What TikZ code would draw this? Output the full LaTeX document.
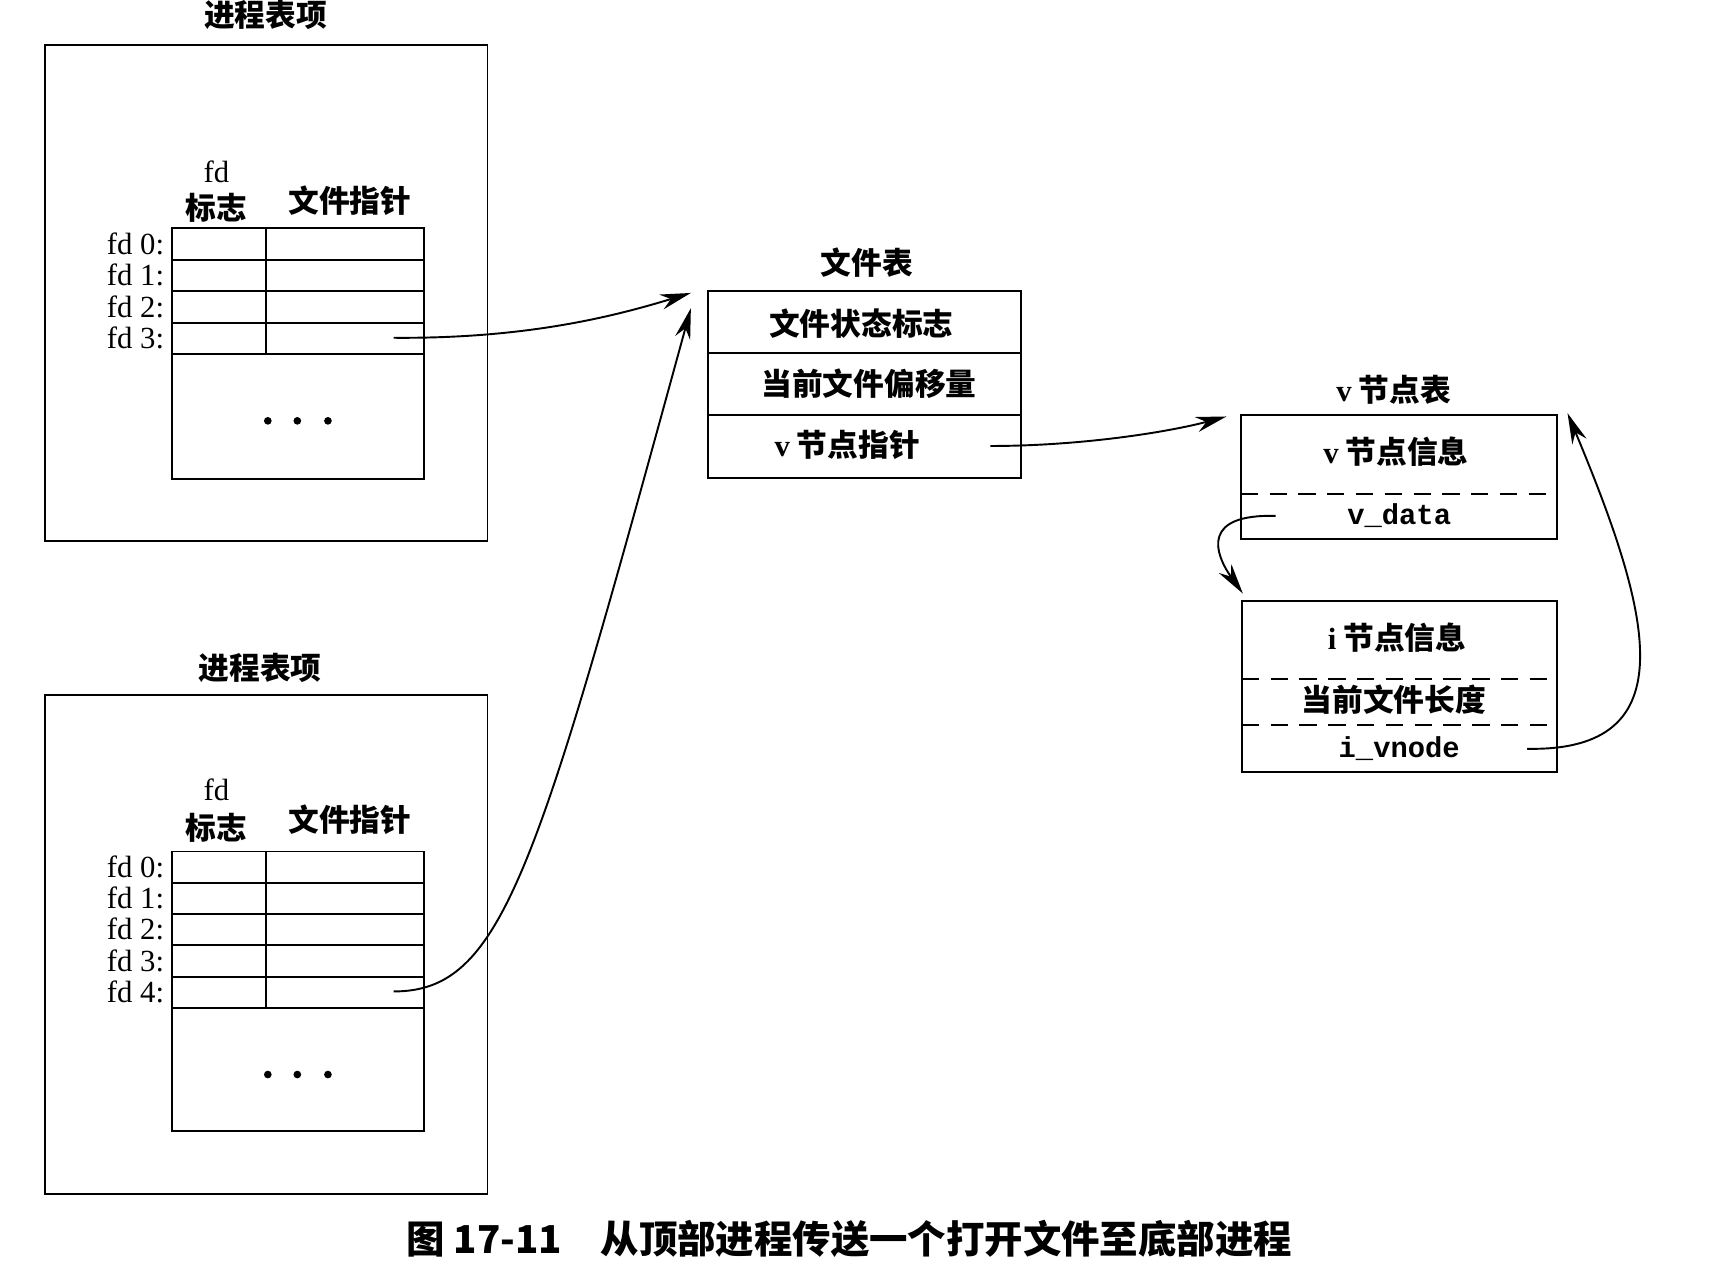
\documentclass[tikz,border=0pt]{standalone}
\usepackage{fontspec}
\setmainfont{Liberation Serif}
\setmonofont{Liberation Mono}
\newfontfamily\cjk{Noto Sans CJK SC}
\usetikzlibrary{arrows.meta, positioning, calc}

\begin{document}
\begin{tikzpicture}[x=0.02cm, y=-0.02cm, line width=1pt,
  cnlab/.style={font=\cjk\bfseries\fontsize{16}{18}\selectfont, inner sep=0pt},
  fdlab/.style={font=\fontsize{16}{18}\selectfont, inner sep=0pt},
  monolab/.style={font=\ttfamily\bfseries\fontsize{15}{17}\selectfont, inner sep=0pt},
  ptrarrow/.style={-{Stealth[length=16pt,width=8pt]}, line width=1pt},
  divline/.style={dash pattern=on 9pt off 6pt}]
  \useasboundingbox (0,0) rectangle (1568,1165);

  % upper process table entry
  \node[cnlab] (procA) at (243,14) {进程表项};
  \draw (41,41) rectangle (446,495);
  \node[fdlab] (fdhA) at (198,157) {fd};
  \node[cnlab] (flagA) at (198,190) {标志};
  \node[cnlab] (fptrA) at (320,184) {文件指针};
  \draw (157,209) rectangle (388,438);
  \foreach \i in {1,...,4}{
    \draw (157,209+28.75*\i) -- (388,209+28.75*\i);
  }
  \draw (243,209) -- (243,324);
  \foreach \i in {0,...,3}{
    \node[fdlab,anchor=east] (fdA\i) at (151,223+28.75*\i) {fd \i:};
  }
  \foreach \x in {245,272,300} \fill (\x,385) circle (2pt);

  % lower process table entry
  \node[cnlab] (procB) at (238,611) {进程表项};
  \draw (41,636) rectangle (446,1092);
  \node[fdlab] (fdhB) at (198,723) {fd};
  \node[cnlab] (flagB) at (198,757) {标志};
  \node[cnlab] (fptrB) at (320,750) {文件指针};
  \draw (157,779) rectangle (388,1035);
  \foreach \i in {1,...,5}{
    \draw (157,779+28.6*\i) -- (388,779+28.6*\i);
  }
  \draw (243,779) -- (243,922);
  \foreach \i in {0,...,4}{
    \node[fdlab,anchor=east] (fdB\i) at (151,793+28.6*\i) {fd \i:};
  }
  \foreach \x in {245,272,300} \fill (\x,983) circle (2pt);

  % file table
  \node[cnlab] (ftab) at (793,240) {文件表};
  \draw (648,266) rectangle (934,437);
  \draw (648,323) -- (934,323);
  \draw (648,380) -- (934,380);
  \node[cnlab] (fstat) at (788,296) {文件状态标志};
  \node[cnlab] (foff) at (795,351) {当前文件偏移量};
  \node[cnlab] (fvp) at (775,407) {{\rmfamily v} 节点指针};

  % v-node table
  \node[cnlab] (vtab) at (1275,357) {{\rmfamily v} 节点表};
  \draw (1135,380) rectangle (1424,493);
  \draw[divline] (1135,452) -- (1424,452);
  \node[cnlab] (vinfo) at (1277,413) {{\rmfamily v} 节点信息};
  \node[monolab] (vdata) at (1280,472) {v\_data};

  % i-node part
  \draw (1136,550) rectangle (1424,706);
  \draw[divline] (1136,621) -- (1424,621);
  \draw[divline] (1136,663) -- (1424,663);
  \node[cnlab] (iinfo) at (1278,583) {{\rmfamily i} 节点信息};
  \node[cnlab] (ilen) at (1275,640) {当前文件长度};
  \node[monolab] (ivnode) at (1280,685) {i\_vnode};

  % pointers
  \coordinate (sA) at (360,309);
  \coordinate (tA) at (632,268);
  \draw[ptrarrow] (sA) .. controls (480,310) and (560,290) .. (tA);
  \coordinate (sB) at (360,907);
  \coordinate (tB) at (632,282);
  \draw[ptrarrow] (sB) .. controls (460,907) and (490,800) .. (tB);
  \coordinate (sV) at (906,408);
  \coordinate (tV) at (1122,381);
  \draw[ptrarrow] (sV) .. controls (990,408) and (1070,395) .. (tV);
  \coordinate (sD) at (1167,472);
  \coordinate (tI) at (1137,543);
  \draw[ptrarrow] (sD) .. controls (1100,470) and (1110,505) .. (tI);
  \coordinate (sN) at (1397,685);
  \coordinate (tN) at (1434,378);
  \draw[ptrarrow] (sN) .. controls (1545,688) and (1510,560) .. (tN);

  % caption
  \node[font=\cjk\bfseries\fontsize{20}{23}\selectfont, inner sep=0pt] (cap)
    at (777,1133) {图 17-11\quad 从顶部进程传送一个打开文件至底部进程};
\end{tikzpicture}
\end{document}
